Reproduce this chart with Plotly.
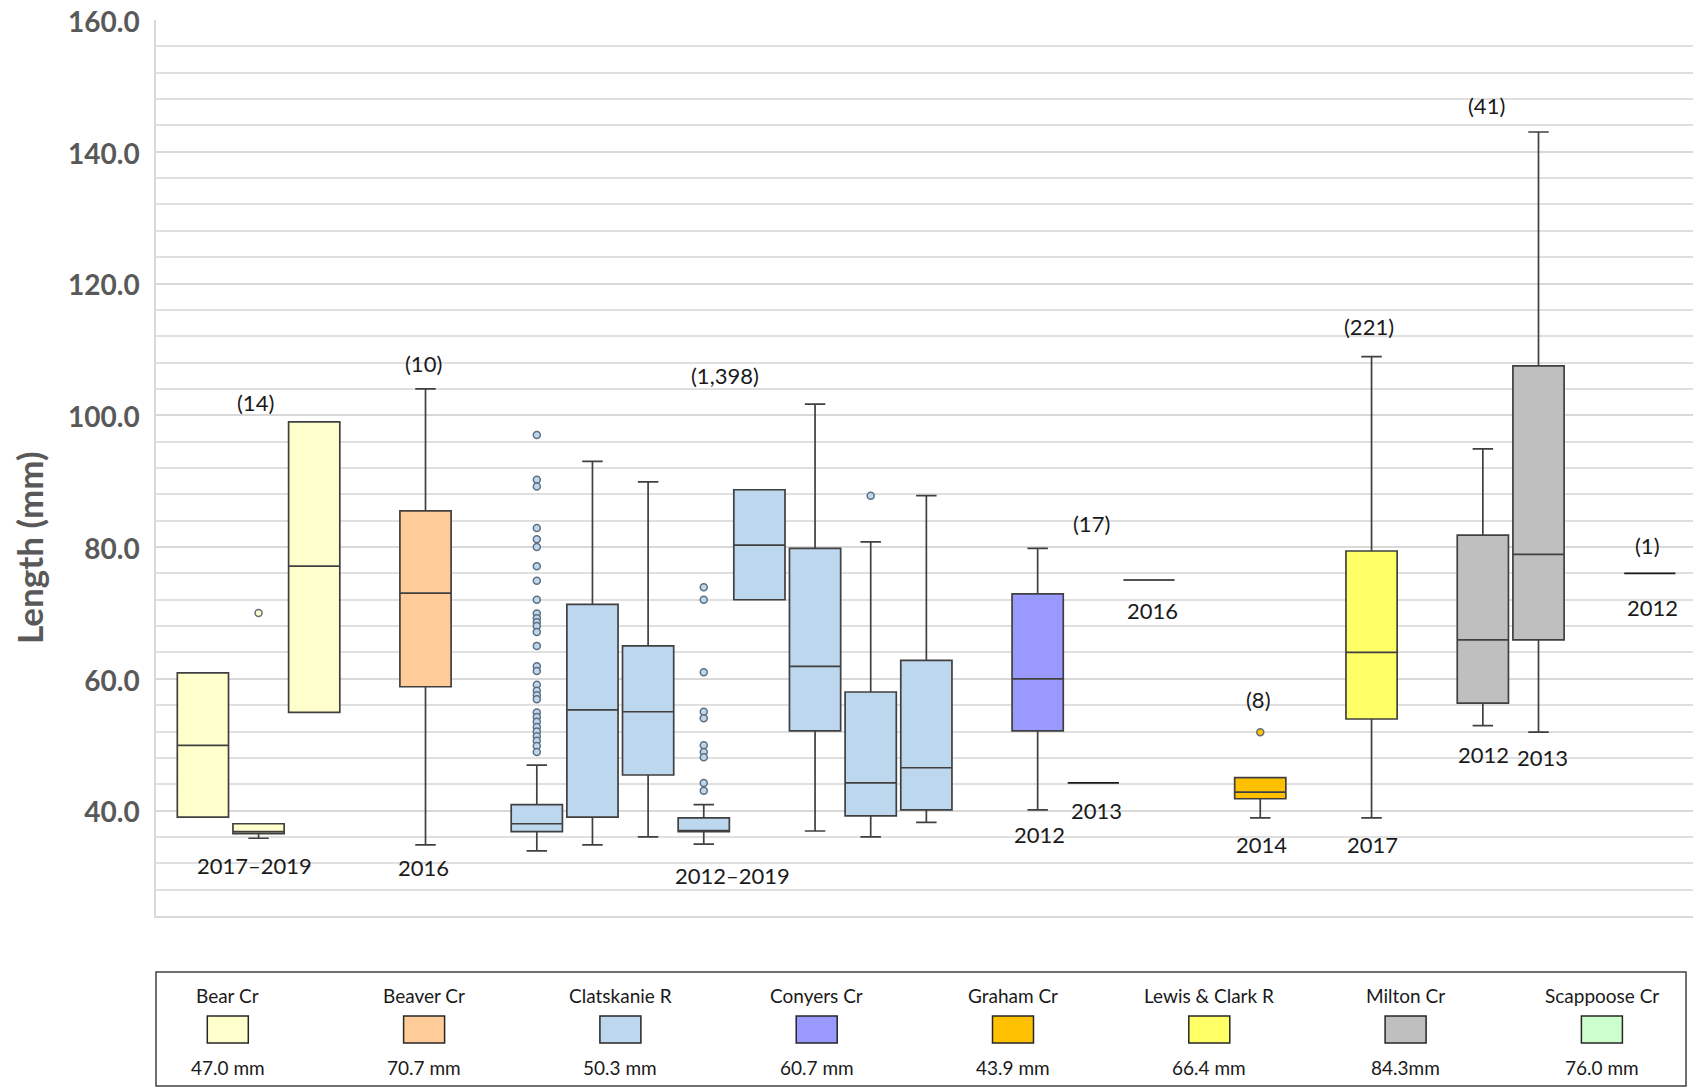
import plotly.graph_objects as go

# ---- data ------------------------------------------------------------------
streams = ["Bear Cr", "Beaver Cr", "Clatskanie R", "Conyers Cr",
           "Graham Cr", "Lewis & Clark R", "Milton Cr", "Scappoose Cr"]
stream_means = ["47.0 mm", "70.7 mm", "50.3 mm", "60.7 mm",
                "43.9 mm", "66.4 mm", "84.3mm", "76.0 mm"]

# one entry per box, left to right
box_stream = [0, 0, 0, 1, 2, 2, 2, 2, 2, 2, 2, 2, 3, 3, 3, 4, 5, 6, 6, 7]
box_q1 = [39.0, 36.5, 54.9, 58.8, 36.8, 39.0, 45.4, 36.8, 72.0, 52.1, 39.2, 40.1,
          52.1, 44.2, 75.0, 41.8, 53.9, 56.3, 65.9, 76.0]
box_median = [49.9, 36.8, 77.1, 73.0, 38.0, 55.3, 55.0, 36.8, 80.3, 61.9, 44.2, 46.5,
              60.0, 44.2, 75.0, 42.8, 64.0, 65.9, 78.9, 76.0]
box_q3 = [60.9, 38.0, 99.0, 85.5, 40.9, 71.3, 65.0, 38.9, 88.7, 79.8, 58.0, 62.8,
          72.9, 44.2, 75.0, 45.0, 79.4, 81.8, 107.5, 76.0]
box_low = [39.0, 35.8, 54.9, 34.8, 33.9, 34.8, 36.0, 34.9, 72.0, 36.9, 36.0, 38.2,
           40.1, 44.2, 75.0, 38.9, 38.9, 52.9, 51.9, 76.0]
box_high = [60.9, 38.0, 99.0, 104.0, 46.9, 93.0, 89.9, 40.9, 88.7, 101.7, 80.8, 87.8,
            79.8, 44.2, 75.0, 45.0, 108.9, 94.9, 143.0, 76.0]

# outliers, keyed by box index
bear_outliers = [70.0]
clatskanie_a_outliers = [97.0, 90.2, 89.2, 82.9, 81.2, 80.0, 77.1, 74.9, 72.0, 69.9,
                         69.2, 68.6, 68.0, 67.1, 65.0, 61.9, 61.2, 59.1, 58.2, 57.5,
                         56.9, 54.9, 54.2, 53.5, 52.7, 52.0, 51.3, 50.6, 49.8, 48.9]
clatskanie_d_outliers = [73.9, 72.0, 61.0, 55.0, 54.0, 49.9, 48.9, 48.1, 44.2, 43.0]
clatskanie_g_outliers = [87.8]
graham_outliers = [51.9]
outliers = {1: bear_outliers, 4: clatskanie_a_outliers, 7: clatskanie_d_outliers,
            10: clatskanie_g_outliers, 15: graham_outliers}

count_labels = ["(14)", "(10)", "(1,398)", "(17)", "(8)", "(221)", "(41)", "(1)"]
year_labels = ["2017\u20132019", "2016", "2012\u20132019", "2012", "2013", "2016",
               "2014", "2017", "2012", "2013", "2012"]

y_tick_values = [40, 60, 80, 100, 120, 140, 160]

# ---- styling / layout -------------------------------------------------------
colors = ["#FFFFCC", "#FFCC99", "#BDD7EE", "#9999FF",
          "#FFC000", "#FFFF66", "#BFBFBF", "#CCFFCC"]
box_slot = [0, 1, 2, 4, 6, 7, 8, 9, 10, 11, 12, 13, 15, 16, 17, 19, 21, 23, 24, 26]
single_value = {13, 14, 19}

count_pos = [(0.95, 102.0), (3.96, 107.9), (9.39, 106.1), (15.96, 83.6),
             (18.97, 56.8), (20.95, 113.5), (23.06, 147.0), (25.96, 80.3)]
year_pos = [(0.93, 31.7), (3.96, 31.4), (9.51, 30.1), (15.03, 36.3), (16.06, 40.0),
            (17.06, 70.3), (19.02, 34.8), (21.01, 34.8), (23.02, 48.5), (24.07, 48.0),
            (26.04, 70.8)]

# the page body adds an 8px offset, so the figure is 8px smaller than the window
OFF = 8
W, H = 1701 - OFF, 1087 - OFF
ML, MR, MT, MB = 156 - OFF, 0, 20 - OFF, 171
FONT = "Lato, 'Open Sans', sans-serif"


def px_x(p):
    # window pixel -> paper x
    return (p - OFF - ML) / (W - ML - MR)


def px_y(p):
    # window pixel -> paper y
    return (H - MB - (p - OFF)) / (H - MT - MB)


fig = go.Figure()

for i, slot in enumerate(box_slot):
    s = box_stream[i]
    line_col = "#1a1a1a" if i in single_value else "#404040"
    fig.add_trace(go.Box(
        x=[slot], q1=[box_q1[i]], median=[box_median[i]], q3=[box_q3[i]],
        lowerfence=[box_low[i]], upperfence=[box_high[i]],
        width=0.92, whiskerwidth=0.4,
        fillcolor=colors[s] if i not in single_value else "rgba(0,0,0,0)",
        line=dict(color=line_col, width=1.7),
        boxpoints=False, showlegend=False, hoverinfo="skip",
    ))

for i, vals in outliers.items():
    s = box_stream[i]
    fig.add_trace(go.Scatter(
        x=[box_slot[i]] * len(vals), y=vals, mode="markers",
        marker=dict(size=7, color=colors[s], line=dict(color="#5f6f80", width=1.5)),
        showlegend=False, hoverinfo="skip",
    ))

for txt, (xv, yv) in zip(count_labels, count_pos):
    fig.add_annotation(x=xv, y=yv, text=txt, showarrow=False,
                       xanchor="center", yanchor="middle",
                       font=dict(family=FONT, size=22, color="#1a1a1a"))
for txt, (xv, yv) in zip(year_labels, year_pos):
    fig.add_annotation(x=xv, y=yv, text=txt, showarrow=False,
                       xanchor="center", yanchor="middle",
                       font=dict(family=FONT, size=22, color="#1a1a1a"))

fig.add_annotation(xref="paper", yref="paper", x=px_x(29), y=px_y(548),
                   xanchor="center", yanchor="middle",
                   text="<b>Length (mm)</b>", textangle=-90, showarrow=False,
                   font=dict(family=FONT, size=35, color="#595959"))

# custom legend box along the bottom
fig.add_shape(type="rect", xref="paper", yref="paper",
              x0=px_x(156), x1=px_x(1686), y0=px_y(972), y1=px_y(1086),
              line=dict(color="#404040", width=1.5), fillcolor="white")
for k, name in enumerate(streams):
    cx = 227.8 + 196.3 * k
    fig.add_shape(type="rect", xref="paper", yref="paper",
                  x0=px_x(cx - 20.5), x1=px_x(cx + 20.5),
                  y0=px_y(1016), y1=px_y(1043),
                  line=dict(color="#262626", width=1.5), fillcolor=colors[k])
    fig.add_annotation(xref="paper", yref="paper", x=px_x(cx), y=px_y(996),
                       xanchor="center", yanchor="middle",
                       text=name, showarrow=False,
                       font=dict(family=FONT, size=19, color="#1a1a1a"))
    fig.add_annotation(xref="paper", yref="paper", x=px_x(cx), y=px_y(1067),
                       xanchor="center", yanchor="middle",
                       text=stream_means[k], showarrow=False,
                       font=dict(family=FONT, size=19, color="#1a1a1a"))

fig.update_layout(
    width=W, height=H, autosize=False,
    margin=dict(l=ML, r=MR, t=MT, b=MB, pad=0),
    plot_bgcolor="white", paper_bgcolor="white",
    showlegend=False, boxmode="overlay",
)
fig.update_xaxes(range=[-0.843, 26.92], showgrid=False, zeroline=False,
                 showticklabels=False, ticks="", showline=True, automargin=False,
                 linecolor="#d9d9d9", linewidth=1.5)
fig.update_yaxes(range=[24, 160], tickmode="array", tickvals=y_tick_values,
                 ticktext=[f"{v:.1f}" for v in y_tick_values],
                 tickfont=dict(family=FONT, size=28, color="#595959", weight="bold"),
                 ticklabelstandoff=9, ticklabelshift=2, ticklabeloverflow="allow",
                 automargin=False,
                 showgrid=True, gridcolor="#d9d9d9", gridwidth=1.5,
                 minor=dict(tickmode="linear", tick0=0, dtick=4, showgrid=True,
                            gridcolor="#e0e0e0", gridwidth=1.5),
                 zeroline=False, showline=True, linecolor="#d9d9d9", linewidth=1.5)

fig.write_html("out.html")
